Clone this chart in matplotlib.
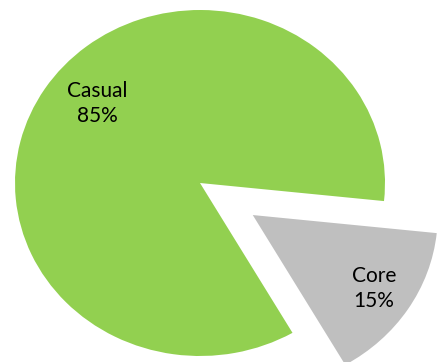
import numpy as np
import matplotlib
matplotlib.use("Agg")
import matplotlib.pyplot as plt

labels = ["Core", "Casual"]
shares = [15, 85]
colors = ["#bfbfbf", "#92d050"]
explode = [0.34, 0.0]

fig = plt.figure(figsize=(4.37, 3.62), dpi=100)
ax = fig.add_axes([0, 0, 1, 1])

wedges, _ = ax.pie(shares, colors=colors, explode=explode, startangle=-60,
                   counterclock=True, radius=1.0,
                   wedgeprops=dict(linewidth=0, antialiased=True))

# label radius (fraction of pie radius) and angular nudge per wedge
label_r = [0.78, 0.72]
label_shift = [0.0, -6.5]
for w, name, pct, r, shift in zip(wedges, labels, shares, label_r, label_shift):
    mid = np.deg2rad((w.theta1 + w.theta2) / 2 + shift)
    cx, cy = w.center
    ax.text(cx + r * np.cos(mid), cy + r * np.sin(mid), f"{name}\n{pct}%",
            ha="center", va="center", fontsize=15, family="Lato",
            linespacing=1.3, color="black")

# stretched pie: 185 px wide radius, 173 px tall radius
ax.set_aspect("auto")
ax.set_xlim(-200 / 185, 237 / 185)
ax.set_ylim(-179 / 173, 183 / 173)
ax.axis("off")

fig.savefig("out.png", dpi=100)
